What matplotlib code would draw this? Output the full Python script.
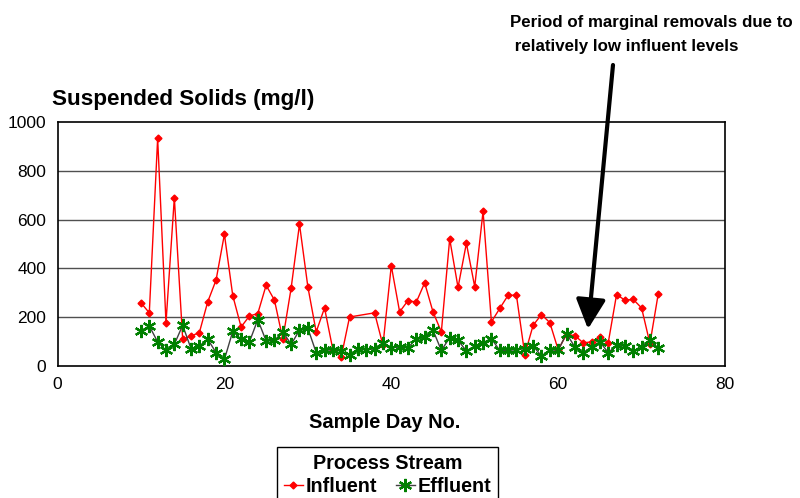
import matplotlib
matplotlib.use("Agg")
import matplotlib.pyplot as plt

plt.rcParams['font.family'] = ['Liberation Sans', 'DejaVu Sans']

influent_days = [10, 11, 12, 13, 14, 15, 16, 17, 18, 19, 20, 21, 22, 23, 24, 25, 26, 27, 28, 29,
                 30, 31, 32, 33, 34, 35, 38, 39, 40, 41, 42, 43, 44, 45, 46, 47, 48, 49, 50,
                 51, 52, 53, 54, 55, 56, 57, 58, 59, 60, 61, 62, 63, 64, 65, 66, 67, 68, 69,
                 70, 71, 72]
influent = [259, 218, 933, 177, 690, 110, 123, 137, 263, 352, 540, 289, 160, 205, 215, 331, 270, 110,
            320, 581, 325, 140, 238, 67, 37, 201, 218, 85, 411, 222, 268, 262, 341, 222, 140,
            521, 322, 503, 325, 634, 181, 236, 290, 290, 47, 167, 211, 178, 67, 129, 125, 95,
            99, 119, 95, 293, 270, 273, 238, 92, 297]

effluent_days = list(range(10, 73))
effluent = [142, 164, 99, 64, 89, 167, 71, 82, 110, 55, 27, 142, 110, 99, 190, 103, 105, 140, 89,
            147, 155, 55, 64, 67, 62, 44, 70, 67, 70, 95, 75, 78, 75, 112, 119, 147, 64, 116,
            105, 62, 82, 96, 112, 64, 64, 67, 71, 82, 41, 67, 64, 133, 78, 55, 78, 99, 55, 85,
            81, 62, 78, 105, 74]

x_ticks = [0, 20, 40, 60, 80]
y_ticks = [0, 200, 400, 600, 800, 1000]

W, H = 800, 498
fig = plt.figure(figsize=(8, 4.98), dpi=100)
ax = fig.add_axes([0.0719, 0.265, 0.8344, 0.490])

for yv in y_ticks[1:-1]:
    ax.axhline(yv, color='#505050', lw=1.0, zorder=1)

ax.plot(influent_days, influent, color='#ff0000', lw=1.0, marker='D', markersize=3.5,
        markerfacecolor='#ff0000', markeredgecolor='#ff0000', label='Influent', zorder=3)
ax.plot(effluent_days, effluent, color='#404040', lw=1.0, marker=(6, 2, 0), markersize=9.5,
        markeredgewidth=1.6, markeredgecolor='#008000', markerfacecolor='#008000',
        label='Effluent', zorder=4)

ax.set_xlim(0, 80)
ax.set_ylim(0, 1000)
ax.set_xticks(x_ticks)
ax.set_yticks(y_ticks)
ax.tick_params(length=0, labelsize=12.5)
ax.tick_params(axis='y', pad=8)
ax.tick_params(axis='x', pad=8)
for s in ax.spines.values():
    s.set_color('black')
    s.set_linewidth(1.2)

fig.text(385 / W, 1 - 428 / H, 'Sample Day No.', fontsize=14.4, fontweight='bold',
         ha='center', va='baseline')

fig.text(52 / W, 1 - 105 / H, 'Suspended Solids (mg/l)', fontsize=16.2, fontweight='bold',
         ha='left', va='baseline')

fig.text(510 / W, 1 - 26.5 / H, 'Period of marginal removals due to',
         fontsize=12.2, fontweight='bold', ha='left', va='baseline')
fig.text(510 / W, 1 - 50.5 / H, ' relatively low influent levels',
         fontsize=12.2, fontweight='bold', ha='left', va='baseline')

fig.add_artist(matplotlib.patches.FancyArrowPatch(
    (613 / W, 1 - 65 / H), (588 / W, 1 - 329 / H),
    transform=fig.transFigure, arrowstyle='-|>,head_length=0.9,head_width=0.45',
    mutation_scale=20, lw=3, color='black', shrinkA=0, shrinkB=0))

leg = fig.legend(loc='upper left', bbox_to_anchor=(277 / W, 1 - 447 / H), ncol=2,
                 title='Process Stream', frameon=True, fancybox=False, framealpha=1,
                 edgecolor='black', handlelength=0.95, handletextpad=0.15, columnspacing=0.95,
                 borderpad=0.35, borderaxespad=0, labelspacing=0.2,
                 prop={'weight': 'bold', 'size': 14.2})
leg.get_title().set_fontweight('bold')
leg.get_title().set_fontsize(14.2)
leg.get_frame().set_linewidth(1.0)
leg._legend_box.sep = 3

fig.savefig('out.png', dpi=100)
